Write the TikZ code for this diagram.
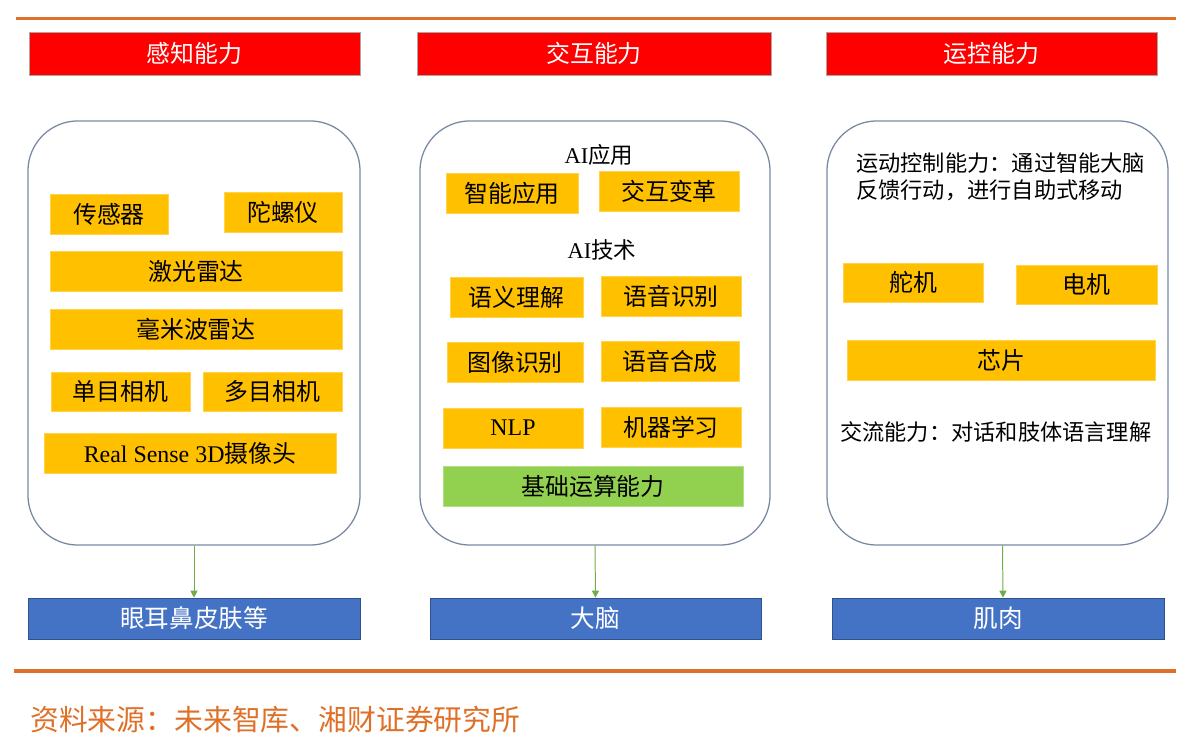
\documentclass[tikz,border=0pt]{standalone}
\usepackage{fontspec}
\setmainfont{Liberation Serif}
\newfontfamily\cjk{Noto Sans CJK SC}
\usepackage{xcolor}
\usepackage{tikz}
\usetikzlibrary{arrows.meta}

\definecolor{rulecol}{RGB}{222,112,40}
\definecolor{partcol}{RGB}{255,192,0}
\definecolor{basecol}{RGB}{146,208,80}
\definecolor{organcol}{RGB}{68,114,196}
\definecolor{organline}{RGB}{47,82,143}
\definecolor{panelline}{RGB}{120,136,162}
\definecolor{linkcol}{RGB}{112,173,71}

\begin{document}
\begin{tikzpicture}[x=0.025cm, y=-0.025cm,
    head/.style={draw=gray!70, fill=red, text=white, minimum height=1.075cm, inner sep=0pt,
        font=\cjk\fontsize{17}{20}\selectfont},
    panel/.style={draw=panelline, line width=0.9pt, rounded corners=1.25cm, minimum height=10.6cm, inner sep=0pt},
    part/.style={draw=partcol!70!white, fill=partcol, minimum height=1cm, inner sep=0pt,
        font=\cjk\fontsize{17}{20}\selectfont},
    base/.style={part, draw=basecol!70!white, fill=basecol},
    organ/.style={draw=organline, fill=organcol, text=white, minimum height=1.025cm, inner sep=0pt,
        font=\cjk\fontsize{17.5}{20}\selectfont},
    note/.style={inner sep=0pt, font=\cjk\fontsize{15.8}{19.2}\selectfont},
    link/.style={draw=linkcol, line width=0.7pt, -{Triangle[width=5pt,length=5pt]}}]

    \useasboundingbox (0,0) rectangle (1192,747);

    \coordinate (topA) at (16,18.5);
    \coordinate (topB) at (1176,18.5);
    \coordinate (botA) at (14,671);
    \coordinate (botB) at (1176,671);
    \draw[rulecol, line width=2.8pt] (topA) -- (topB);
    \draw[rulecol, line width=2.8pt] (botA) -- (botB);

    \node[head, minimum width=8.275cm] (hSense) at (194.5,53.5) {感知能力};
    \node[head, minimum width=8.85cm] (hInter) at (594,53.5) {交互能力};
    \node[head, minimum width=8.275cm] (hMotion) at (991.5,53.5) {运控能力};

    \node[panel, minimum width=8.3cm] (pSense) at (194,333) {};
    \node[panel, minimum width=8.75cm] (pInter) at (595,333) {};
    \node[panel, minimum width=8.525cm] (pMotion) at (997.5,333) {};

    \node[part, minimum width=2.95cm] (sensor) at (109,214) {传感器};
    \node[part, minimum width=2.95cm] (gyro) at (283,212) {陀螺仪};
    \node[part, minimum width=7.3cm] (lidar) at (196,271) {激光雷达};
    \node[part, minimum width=7.3cm] (radar) at (196,329) {毫米波雷达};
    \node[part, minimum width=3.475cm, minimum height=0.975cm] (monoCam) at (120.5,391.5) {单目相机};
    \node[part, minimum width=3.475cm, minimum height=0.975cm] (multiCam) at (272.5,391.5) {多目相机};
    \node[part, minimum width=7.3cm] (realsense) at (190,453) {{\rmfamily Real Sense 3D}摄像头};

    \node[note, font=\cjk\fontsize{16}{19}\selectfont] (aiApp) at (599,155) {{\rmfamily AI}应用};
    \node[part, minimum width=3.3cm] (smartApp) at (512,193) {智能应用};
    \node[part, minimum width=3.5cm] (interChange) at (669,191) {交互变革};
    \node[note, font=\cjk\fontsize{16}{19}\selectfont] (aiTech) at (602,250) {{\rmfamily AI}技术};
    \node[part, minimum width=3.325cm] (semantic) at (516.5,297) {语义理解};
    \node[part, minimum width=3.5cm] (speechRec) at (671,296.5) {语音识别};
    \node[part, minimum width=3.4cm] (imageRec) at (515,362) {图像识别};
    \node[part, minimum width=3.45cm] (speechSyn) at (670,361) {语音合成};
    \node[part, minimum width=3.5cm] (nlp) at (513,428) {\rmfamily NLP};
    \node[part, minimum width=3.5cm] (mlearn) at (671,427) {机器学习};
    \node[base, minimum width=7.5cm] (compute) at (593,486) {基础运算能力};

    \node[note, anchor=north west, align=left] (motionCtl) at (856,152) {运动控制能力：通过智能大脑\\反馈行动，进行自助式移动};
    \node[part, minimum width=3.5cm, minimum height=0.975cm] (servo) at (913,282.5) {舵机};
    \node[part, minimum width=3.525cm, minimum height=0.975cm] (motor) at (1086.5,284.5) {电机};
    \node[part, minimum width=7.7cm] (chip) at (1001,360) {芯片};
    \node[note, anchor=west] (talk) at (840,432) {交流能力：对话和肢体语言理解};

    \node[organ, minimum width=8.3cm] (senses) at (194,618.5) {眼耳鼻皮肤等};
    \node[organ, minimum width=8.275cm] (brain) at (595.5,618.5) {大脑};
    \node[organ, minimum width=8.3cm] (muscle) at (998,618.5) {肌肉};

    \draw[link] (pSense.south) -- (senses.north);
    \draw[link] (pInter.south) -- (brain.north);
    \draw[link] ([xshift=0.125cm]pMotion.south) -- ([xshift=0.125cm]muscle.north);

    \node[note, anchor=west, text=rulecol, font=\cjk\fontsize{20.5}{24}\selectfont] (source) at (30,720) {资料来源：未来智库、湘财证券研究所};
\end{tikzpicture}
\end{document}
